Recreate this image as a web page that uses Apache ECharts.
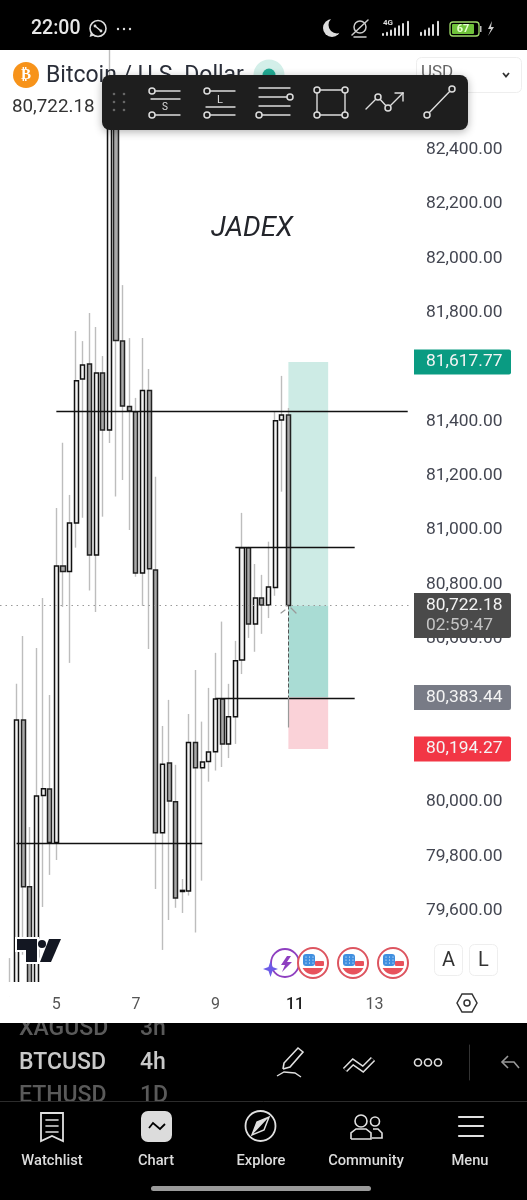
<!DOCTYPE html>
<html><head><meta charset="utf-8">
<style>html,body{margin:0;padding:0;background:#fff}#c{width:527px;height:1200px}</style>
<script src="https://cdn.jsdelivr.net/npm/echarts@6/dist/echarts.min.js"></script>
</head><body><div id="c"></div>
<script>
// 4h candles, first value is the candle in slot 1
const open  = [79300,79300,80301,79687,79300,80023,80047,79850,80868,80847,81026,81556,81611,80908,81578,81368,82545,81695,81454,81435,80842,81513,80853,79886,80143,80000,79670,79672,80218,80125,80148,80184,80378,80213,80313,80522,80935,80654,80750,80724,80788,81405,81423];
const close = [79290,80301,79687,79300,80021,80048,79850,80868,80847,81026,81549,81607,80908,81578,81368,82582,81697,81456,81438,80842,81513,80857,79886,80138,80003,79646,79674,80218,80125,80146,80183,80378,80213,80313,80519,80935,80654,80750,80724,80790,81402,81423,80722.18];
const low   = [79285,79290,79437,79290,79290,79613,79731,79786,80717,80511,80935,81045,80777,80698,81049,81320,81123,81184,81000,80828,80720,80562,79679,79455,79565,79610,79591,79655,79519,79710,80074,80115,80128,80161,80213,80470,80603,80552,80618,80676,80758,81141,80720];
const high  = [79425,80434,80610,79907,80566,80750,80393,81081,81321,81129,81732,81695,81798,81747,81640,82803,82619,81901,81706,81486,81706,81592,81196,80279,80375,80136,79716,80323,80485,80295,80419,80548,80663,80434,80592,81063,80938,80875,80835,80957,81435,81567,81449];
const slotCount = 62, firstCandleSlot = 1;
const dayLabels = ['5','7','9','11','13'];
const firstDaySlot = 8, slotsPerLabel = 12;
const priceTicks = [79600,79800,80000,80600,80800,81000,81200,81400,81800,82000,82200,82400];
const entryPrice = 80383.44, targetPrice = 81617.77, stopPrice = 80194.27, lastPrice = 80722.18;
const tagPrices = [81617.77,80722.18,80383.44,80194.27];
const tagColors = ['#0a9b82','#4a4a4a','#787b86','#f23645'];
const hLines = [[8,61,81438],[35,53,80936],[32,53,80382],[2,30,79849]];
const tradeStartSlot = 43, tradeEndSlot = 49;
const categories = Array.from({length:slotCount},(_,i)=>{
  const n=(i-firstDaySlot)/slotsPerLabel; return Number.isInteger(n)&&dayLabels[n]?dayLabels[n]:'';
});
const empty=['-','-','-','-'];
const wickData=categories.map((_,i)=>{const j=i-firstCandleSlot;return open[j]==null?empty:[open[j],close[j],low[j],high[j]];});
const bodyData=categories.map((_,i)=>{const j=i-firstCandleSlot;if(open[j]==null)return empty;const a=Math.min(open[j],close[j]),b=Math.max(open[j],close[j]);return [open[j],close[j],a,b];});

// ---- decoration helpers (screen furniture, not data) ----
const Z=100,g=[];
const L=(x1,y1,x2,y2,c='#ddd',w=1.5,z=Z)=>g.push({type:'line',z,silent:true,shape:{x1,y1,x2,y2},style:{stroke:c,lineWidth:w,lineCap:'round'}});
const C=(cx,cy,r,o={},z=Z)=>g.push({type:'circle',z,silent:true,shape:{cx,cy,r},style:Object.assign({fill:'none'},o)});
const R=(x,y,width,height,fill,r=0,o={},z=Z)=>g.push({type:'rect',z,silent:true,shape:{x,y,width,height,r},style:Object.assign({fill},o)});
const T=(text,x,y,font,fill,align='left',z=Z)=>g.push({type:'text',z,silent:true,style:{text,x,y,font,fill,align,verticalAlign:'middle'}});
const P=(points,o,z=Z,closed=false)=>g.push({type:closed?'polygon':'polyline',z,silent:true,shape:{points},style:Object.assign(closed?{}:{fill:'none'},o)});
const ring=(x,y,r,c='#ddd',w=1.5)=>C(x,y,r,{stroke:c,lineWidth:w,fill:'#1e1e1e'},Z+3);

// clip candles at the bottom of the pane
R(0,982,412,14.5,'#fff',0,{},70);

// status bar
R(0,0,527,50,'#000');
T('22:00',31,29,'500 19.5px Roboto','#e8e8e8');
C(98,28.5,8,{stroke:'#ddd',lineWidth:1.6});P([[91,32],[89.5,37],[94,35.5]],{fill:'#ddd'},Z,true);
C(95,26,1.4,{fill:'#ddd'});C(101,31,1.4,{fill:'#ddd'});L(95,26,101,31,'#ddd',1.6);
[118,124,130].forEach(x=>C(x,29,1.2,{fill:'#ddd'}));
C(332,28,9,{fill:'#ddd'});C(337,25,8.5,{fill:'#000'});
C(360,27,6,{stroke:'#ccc',lineWidth:1.5});L(352,35,368,20,'#ccc',1.5);L(354,37,366,37,'#ccc',1.5);
T('4G',388,23,'700 8px Roboto','#ddd','center');
[[383,1],[387,2],[391,4],[395,6],[399,8],[403,10],[408,12]].forEach(a=>L(a[0],35,a[0],35-a[1]*1.1,'#ddd',2));
[[421,2],[425,4],[429,6],[433,9],[438,12]].forEach(a=>L(a[0],35,a[0],35-a[1]*1.1,'#ddd',2));
R(450,22,29,14,'none',3,{stroke:'#9fdc6a',lineWidth:1.3});R(452,24,22,10,'#6fc23a',1);T('67',463,29,'700 11px Roboto','#e7ffd0','center');
R(480,26,1.5,6,'#bbb');
P([[492,21],[488,29],[491,29],[488,36],[494,27],[491,27]],{fill:'#ccc'},Z,true);

// header
C(26,75,13,{fill:'#f7931a'});T('₿',26,75,'700 15px "DejaVu Sans"','#fff','center');
T('Bitcoin / U.S. Dollar',46,76,'23px Roboto','#2a2e39');
C(269,75,15.5,{fill:'#d3efe9'});C(269,75,6.5,{fill:'#22ab94'});
R(416.5,57.5,105,35,'#fff',5,{stroke:'#eeeeee',lineWidth:1});
T('USD',421,73,'17px Roboto','#666');
P([[503,73],[506,76.5],[509,73]],{stroke:'#333',lineWidth:1.8});
T('80,722.18',12,107,'18.8px Roboto','#333');
T('JADEX',211,229,'italic 27.7px Roboto','#23252b');

// toolbar
g.push({type:'rect',z:Z+1,silent:true,shape:{x:102,y:75,width:366,height:55,r:8},style:{fill:'#1e1e1e',shadowBlur:8,shadowColor:'rgba(0,0,0,.3)',shadowOffsetY:2}});
[114,124].forEach(x=>[94,102,110].forEach(y=>C(x,y,1.3,{fill:'#666'},Z+2)));
const tl=(a,b,c,d)=>L(a,b,c,d,'#ddd',1.4,Z+2);
tl(152,91,180,91);tl(151,99,180,99);tl(152,115,180,115);ring(152,91,3);ring(152,115,3);T('S',165,107,'10px Roboto','#ddd','center',Z+2);
tl(207,91,235,91);tl(206,107,235,107);tl(207,115,235,115);ring(207,91,3);ring(207,115,3);T('L',220,100,'11px Roboto','#ddd','center',Z+2);
tl(259,88,290,88);tl(259,97,290,97);tl(259,106,290,106);tl(259,115,290,115);ring(290,97,3);ring(259,115,3);
tl(317,90,345,90);tl(345,90,345,115);tl(345,115,317,115);tl(317,115,317,90);[[317,90],[345,90],[317,115],[345,115]].forEach(a=>ring(a[0],a[1],3));
tl(366,109,378,97);tl(378,97,388,108);tl(388,108,403,93);tl(403,93,395,93);tl(403,93,403,101);ring(378,97,3);ring(388,108,3);
tl(427,115,452,89);ring(427,115,3);ring(452,89,3);

// chevrons at last price
L(281,613,285,610,'#999',1.2);L(291,608,296,613,'#999',1.2);

// TV logo: white halo behind, fills in front
const tvA=[[17,939],[37,939],[37,962],[26,962],[26,950],[17,950]],tvB=[[49,939],[61,939],[51,962],[40,962]];
const halo={fill:'#fff',stroke:'#fff',lineWidth:4};
P(tvA,halo,Z-1,true);C(42,944,4,halo,Z-1);P(tvB,halo,Z-1,true);
P(tvA,{fill:'#131722'},Z,true);C(42,944,4,{fill:'#131722'});P(tvB,{fill:'#131722'},Z,true);

// event icons
C(285,963,14,{stroke:'#8e3fc0',lineWidth:1.8,fill:'#fff'});
P([[287,956],[281,965],[285,965],[282,972],[292,962],[287,962],[291,956]],{fill:'#8e3fc0'},Z,true);
P([[270.5,961],[272.5,967],[278,969],[272.5,971],[270.5,977],[268.5,971],[263,969],[268.5,967]],{fill:'#6c5ce7'},Z,true);
[313,353,393].forEach(x=>{
  C(x,963,15,{fill:'#fff',stroke:'#dd5560',lineWidth:2});
  const cap=[];for(let a=0.45;a<=Math.PI-0.45+1e-6;a+=0.2)cap.push([x+11.5*Math.cos(a),963+11.5*Math.sin(a)]);
  cap.push([x-10.3,968]);cap.unshift([x+10.3,968]);
  P(cap,{fill:'#e8525c'},Z,true);
  R(x-10,954,12,12,'#3f8fe0',3);R(x+2,961,9,5,'#e8525c',1);
  [0,1,2].forEach(r=>[0,1,2].forEach(c=>C(x-7+c*3.5,957+r*3,0.6,{fill:'#fff'})));
});
R(434.5,944.5,28,31,'#fff',5,{stroke:'#eeeeee',lineWidth:1});T('A',448.5,960.5,'20px Roboto','#333','center');
R(469.5,944.5,28,31,'#fff',5,{stroke:'#eeeeee',lineWidth:1});T('L',483.5,960.5,'20px Roboto','#333','center');

// time axis settings
P([[457,1003],[462,994],[472,994],[477,1003],[472,1012],[462,1012]],{fill:'none',stroke:'#333',lineWidth:1.5},Z+3,true);
C(467,1003,3,{stroke:'#333',lineWidth:1.5},Z+3);

// footer
R(0,1023,527,177,'#000');
T('XAGUSD',19,1029,'500 23px Roboto','#5a5a5a',undefined,Z+1);T('3h',140,1029,'500 23px Roboto','#5a5a5a',undefined,Z+1);
T('BTCUSD',19,1063,'500 23px Roboto','#c9c9c9',undefined,Z+1);T('4h',140,1063,'500 23px Roboto','#c9c9c9',undefined,Z+1);
T('ETHUSD',19,1096,'500 23px Roboto','#5a5a5a',undefined,Z+1);T('1D',140,1096,'500 23px Roboto','#5a5a5a',undefined,Z+1);
R(0,1013,450,10,'#fff',0,{},Z+2);R(450,1015,77,8,'#fff',0,{},Z+2);
R(0,1101,527,99,'#000',0,{},Z+2);L(0,1101.5,527,1101.5,'#2c2c2c',1,Z+2);
const F=Z+3,fl=(a,b,c,d,w=1.6)=>L(a,b,c,d,'#e0e0e0',w,F);
// pencil
P([[283,1069],[284,1063],[298,1048],[303,1052],[290,1067],[283,1069]],{stroke:'#e0e0e0',lineWidth:1.6},F);
P([[277,1076],[284,1072],[295,1073],[301,1077]],{stroke:'#e0e0e0',lineWidth:1.4},F);
// double chevrons
P([[345,1070],[353,1062],[363,1069],[373,1059]],{stroke:'#e0e0e0',lineWidth:6},F);
P([[345,1070],[353,1062],[363,1069],[373,1059]],{stroke:'#000',lineWidth:3},F);
[418,428,438].forEach(x=>C(x,1062.5,3.5,{stroke:'#e0e0e0',lineWidth:1.6},F));
L(469.5,1045,469.5,1080,'#333',1,F);
P([[508,1056],[502,1062],[508,1068]],{stroke:'#999',lineWidth:1.6},F);P([[502,1062],[514,1062],[519,1068]],{stroke:'#999',lineWidth:1.6},F);
// nav
P([[41,1113],[63,1113],[63,1141],[52,1136],[41,1141]],{stroke:'#e0e0e0',lineWidth:1.8,fill:'none'},F,true);
fl(46,1120,58,1120);fl(46,1126,58,1126);fl(46,1132,58,1132);
R(141,1111,31,31,'#dcdcdc',7,{},F);P([[149,1128],[153,1123],[160,1129],[165,1124]],{stroke:'#000',lineWidth:1.8},F);
C(260.5,1126,15,{stroke:'#e0e0e0',lineWidth:1.8},F);
P([[269,1117],[264,1130],[252,1135],[257,1122]],{fill:'#000',stroke:'#e0e0e0',lineWidth:1.5},F,true);
P([[269,1117],[257,1122],[252,1135]],{fill:'#e0e0e0'},F,true);
C(361,1121,6,{stroke:'#e0e0e0',lineWidth:1.6},F);C(375,1121.5,4.5,{stroke:'#e0e0e0',lineWidth:1.6},F);
P([[351,1139],[351,1133],[356,1129],[366,1129],[371,1133],[371,1139],[351,1139]],{stroke:'#e0e0e0',lineWidth:1.6},F);
P([[373,1129],[378,1129],[382,1133],[382,1138],[372,1138]],{stroke:'#e0e0e0',lineWidth:1.6},F);
fl(459,1117,483,1117,2.2);fl(459,1126,483,1126,2.2);fl(459,1136,483,1136,2.2);
[['Watchlist',52],['Chart',156],['Explore',261],['Community',366],['Menu',470]].forEach(a=>T(a[0],a[1],1161.5,'500 14.7px Roboto','#dcdcdc','center',F));
R(151,1186,220,5,'#9a9a9a',2.5,{},F);

const hMark=hLines.map(l=>[{coord:[l[0],l[2]]},{coord:[l[1],l[2]]}]);
const chart=echarts.init(document.getElementById('c'),null,{renderer:'canvas'});
chart.setOption({
  animation:false,backgroundColor:'#fff',
  grid:{left:-2.3,top:50,width:413.33,height:932,containLabel:false},
  xAxis:{type:'category',data:categories,boundaryGap:true,z:80,
    axisLine:{show:false},axisTick:{show:false},splitLine:{show:false},
    axisLabel:{interval:0,margin:15,fontFamily:'Roboto',fontSize:16,color:'#555',hideOverlap:false,
      formatter:v=>v==='11'?'{b|11}':v,rich:{b:{fontFamily:'Roboto',fontSize:16,fontWeight:500,color:'#222'}}}},
  yAxis:{type:'value',position:'right',min:79337,max:82766,
    axisLine:{show:false},axisTick:{show:false},splitLine:{show:false},
    axisLabel:{customValues:priceTicks,margin:15,fontFamily:'Roboto',fontSize:17.4,color:'#434651',
      formatter:v=>v.toLocaleString('en-US',{minimumFractionDigits:2,maximumFractionDigits:2})}},
  series:[
    {type:'line',data:[],z:1,silent:true,
     markArea:{silent:true,data:[
       [{xAxis:tradeStartSlot,yAxis:targetPrice,itemStyle:{color:'#cdebe5'}},{xAxis:tradeEndSlot,yAxis:lastPrice}],
       [{xAxis:tradeStartSlot,yAxis:lastPrice,itemStyle:{color:'#a9dcd4'}},{xAxis:tradeEndSlot,yAxis:entryPrice}],
       [{xAxis:tradeStartSlot,yAxis:entryPrice,itemStyle:{color:'#fad2d8'}},{xAxis:tradeEndSlot,yAxis:stopPrice}]
     ]}},
    {type:'candlestick',z:2,silent:true,data:wickData,barWidth:1,
     itemStyle:{color:'#bdbdbd',color0:'#bdbdbd',borderColor:'#bdbdbd',borderColor0:'#bdbdbd',borderWidth:1.4}},
    {type:'candlestick',z:3,silent:true,data:bodyData,barWidth:4.6,
     itemStyle:{color:'#f2f2f2',color0:'#a9a9a9',borderColor:'#111',borderColor0:'#222',borderWidth:1.5},
     markLine:{silent:true,symbol:'none',animation:false,label:{show:false},
       data:[
         {yAxis:lastPrice,lineStyle:{color:'#9a9a9a',type:[1.5,4],width:1}},
         ...hMark.map(d=>d.map((p,i)=>i?p:Object.assign({lineStyle:{color:'#111',type:'solid',width:1.3}},p))),
         [{coord:[tradeStartSlot,lastPrice],lineStyle:{color:'#555',type:'dashed',width:1}},{coord:[tradeStartSlot,entryPrice]}],
         [{coord:[tradeStartSlot,entryPrice],lineStyle:{color:'#999',type:'solid',width:1.2}},{coord:[tradeStartSlot,entryPrice-110]}]
       ]}},
    {type:'custom',z:60,silent:true,coordinateSystem:'cartesian2d',data:tagPrices.map((p,i)=>[0,p]),
     renderItem:(params,api)=>{
       const i=params.dataIndex,y=api.coord([0,tagPrices[i]])[1];
       const dark=tagPrices[i]===lastPrice;
       const kids=[
         {type:'rect',shape:{x:414,y:y-12.5,width:97,height:dark?45:25,r:[0,2,2,0]},style:{fill:tagColors[i]}},
         {type:'text',style:{text:tagPrices[i].toLocaleString('en-US',{minimumFractionDigits:2}),x:426,y:y,font:'17.4px Roboto',fill:'#f4f4f4',align:'left',verticalAlign:'middle'}}
       ];
       if(dark)kids.push({type:'text',style:{text:'02:59:47',x:426,y:y+20,font:'17.4px Roboto',fill:'#c4c4c4',align:'left',verticalAlign:'middle'}});
       return {type:'group',children:kids};
     }}
  ],
  graphic:{elements:g}
});
</script></body></html>
